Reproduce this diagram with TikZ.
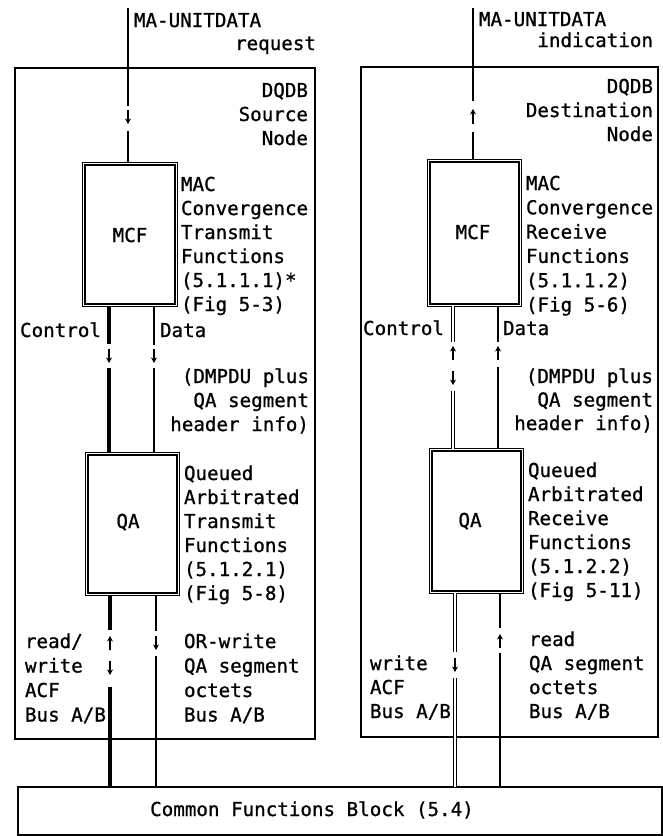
\documentclass[tikz,border=0pt]{standalone}
\usepackage{fontspec}
\setmainfont{DejaVu Sans Mono}[FakeBold=0.9]
\usetikzlibrary{arrows.meta}
\begin{document}
\begin{tikzpicture}[x=1pt,y=-1pt,
  every node/.style={font=\fontsize{19.2}{24}\selectfont, inner sep=0pt, outer sep=0pt, text=black},
  frame/.style={draw, line width=1.3pt},
  fbox/.style={draw, line width=1.5pt, double=white, double distance=0.9pt, inner sep=0pt},
  thinl/.style={line width=1.3pt},
  ctl/.style={line width=3.8pt},
  ctld/.style={line width=1.3pt, double=white, double distance=1.2pt},
  arr/.style={line width=1.4pt, -{Stealth[length=5.5pt,width=6pt]}},
  lbl/.style={anchor=base west},
  rlbl/.style={anchor=base east},
]
\useasboundingbox (0,0) rectangle (663,836);
\fill[white] (0,0) rectangle (663,836);

% outer frames
\node[frame, minimum width=300pt, minimum height=671pt] (srcbox) at (165,403.5) {};
\node[frame, minimum width=297pt, minimum height=670pt] (dstbox) at (509.5,402) {};
\node[frame, minimum width=644pt, minimum height=48pt] (cfb) at (340,811) {};
\node[anchor=base] (cfbtext) at (312,816) {Common Functions Block (5.4)};

% function boxes
\node[fbox, minimum width=92.6pt, minimum height=141.6pt] (mcfL) at (130,234.5) {};
\node[fbox, minimum width=91.6pt, minimum height=144.6pt] (mcfR) at (474.5,233) {};
\node[fbox, minimum width=91.6pt, minimum height=140.6pt] (qaL) at (132.5,524) {};
\node[fbox, minimum width=91.6pt, minimum height=142.6pt] (qaR) at (476.5,521) {};
\node[anchor=base] (mcfLt) at (130,242) {MCF};
\node[anchor=base] (mcfRt) at (473,239) {MCF};
\node[anchor=base] (qaLt) at (128,528) {QA};
\node[anchor=base] (qaRt) at (470,527) {QA};

% top texts
\node[lbl] (reqa) at (134,27) {MA-UNITDATA};
\node[rlbl] (reqb) at (316,50) {request};
\node[lbl] (inda) at (479,26) {MA-UNITDATA};
\node[rlbl] (indb) at (653,47) {indication};

\foreach \t [count=\i] in {{DQDB},{Source},{Node}}
  \node[rlbl] (srcn\i) at (308,{97+24*(\i-1)}) {\t};
\foreach \t [count=\i] in {{DQDB},{Destination},{Node}}
  \node[rlbl] (dstn\i) at (653,{93+24*(\i-1)}) {\t};

\foreach \t [count=\i] in {{MAC},{Convergence},{Transmit},{Functions},{(5.1.1.1)*},{(Fig 5-3)}}
  \node[lbl] (mcfLd\i) at (181,{191+24*(\i-1)}) {\t};
\foreach \t [count=\i] in {{MAC},{Convergence},{Receive},{Functions},{(5.1.1.2)},{(Fig 5-6)}}
  \node[lbl] (mcfRd\i) at (526,{190+24.3*(\i-1)}) {\t};

\node[rlbl] (ctlL) at (101,337) {Control};
\node[lbl] (datL) at (160,337) {Data};
\node[rlbl] (ctlR) at (444,335) {Control};
\node[lbl] (datR) at (503,335) {Data};

\foreach \t [count=\i] in {{(DMPDU plus},{QA segment},{header info)}}
  \node[rlbl] (dmL\i) at (309,{383+24*(\i-1)}) {\t};
\foreach \t [count=\i] in {{(DMPDU plus},{QA segment},{header info)}}
  \node[rlbl] (dmR\i) at (653,{383+23.5*(\i-1)}) {\t};

\foreach \t [count=\i] in {{Queued},{Arbitrated},{Transmit},{Functions},{(5.1.2.1)},{(Fig 5-8)}}
  \node[lbl] (qaLd\i) at (184,{480+24*(\i-1)}) {\t};
\foreach \t [count=\i] in {{Queued},{Arbitrated},{Receive},{Functions},{(5.1.2.2)},{(Fig 5-11)}}
  \node[lbl] (qaRd\i) at (528,{477+24*(\i-1)}) {\t};

\foreach \t [count=\i] in {{read/},{write},{ACF},{Bus A/B}}
  \node[lbl] (rwL\i) at (25,{648+24.5*(\i-1)}) {\t};
\foreach \t [count=\i] in {{OR-write},{QA segment},{octets},{Bus A/B}}
  \node[lbl] (orL\i) at (184,{648+24.5*(\i-1)}) {\t};
\foreach \t [count=\i] in {{write},{ACF},{Bus A/B}}
  \node[lbl] (wR\i) at (370,{670+24*(\i-1)}) {\t};
\foreach \t [count=\i] in {{read},{QA segment},{octets},{Bus A/B}}
  \node[lbl] (rR\i) at (529,{646+24*(\i-1)}) {\t};

% top service lines
\coordinate (topL) at (128,8);
\coordinate (topR) at (473,8);
\draw[thinl] (topL) -- (128,106);
\draw[arr] (128,110) -- (128,124);
\draw[thinl] (128,131) -- (128,163);
\draw[thinl] (topR) -- (473,101);
\draw[arr] (473,124) -- (473,109);
\draw[thinl] (473,132) -- (473,160);

% left MCF -> QA
\draw[ctl] (109,306) -- (109,344);
\draw[arr] (109,349) -- (109,363);
\draw[ctl] (109,368) -- (109,453);
\draw[thinl] (154,306) -- (154,345);
\draw[arr] (154,349) -- (154,363);
\draw[thinl] (154,368) -- (154,453);

% right MCF <-> QA
\draw[ctld] (453,306) -- (453,342);
\draw[arr] (453,360) -- (453,346);
\draw[arr] (453,371) -- (453,385);
\draw[ctld] (453,391) -- (453,449);
\draw[thinl] (498,306) -- (498,342);
\draw[arr] (498,360) -- (498,346);
\draw[thinl] (498,367) -- (498,449);

% left QA <-> common
\draw[ctl] (110,595) -- (110,630);
\draw[arr] (110,650) -- (110,636);
\draw[arr] (110,661) -- (110,675);
\draw[ctl] (110,687) -- (110,788);
\draw[thinl] (156,595) -- (156,631);
\draw[arr] (156,636) -- (156,650);
\draw[thinl] (156,656) -- (156,788);

% right QA <-> common
\draw[ctld] (455,593) -- (455,652);
\draw[arr] (455,658) -- (455,672);
\draw[ctld] (455,678) -- (455,787);
\draw[thinl] (500,593) -- (500,628);
\draw[arr] (500,648) -- (500,634);
\draw[thinl] (500,653) -- (500,787);
\end{tikzpicture}
\end{document}
